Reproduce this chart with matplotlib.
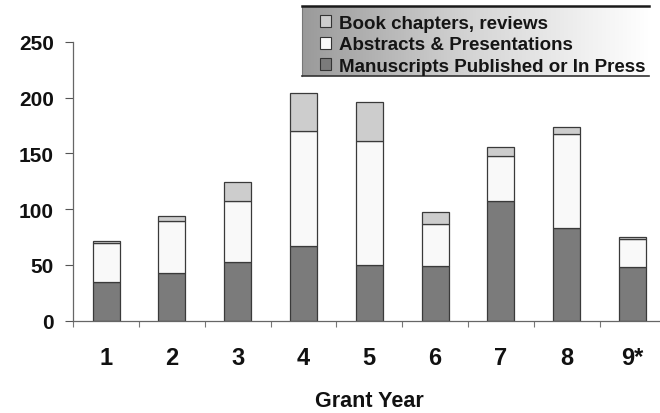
import numpy as np
import matplotlib
matplotlib.use('Agg')
import matplotlib.pyplot as plt
from matplotlib.colors import LinearSegmentedColormap
from matplotlib.patches import Patch

plt.rcParams['font.family'] = ['Liberation Sans', 'DejaVu Sans']
plt.rcParams['font.weight'] = 'bold'

# data
years       = ['1', '2', '3', '4', '5', '6', '7', '8', '9*']
manuscripts = [35, 43, 53, 67, 50, 49, 107, 83, 48]
abstracts   = [35, 46, 54, 103, 111, 38, 41, 84, 25]
chapters    = [1, 5, 17, 34, 35, 10, 8, 7, 2]
labels      = ['Manuscripts Published or In Press',
               'Abstracts & Presentations',
               'Book chapters, reviews']
yticks      = [0, 50, 100, 150, 200, 250]

c_man  = '#7b7b7b'
c_abs  = '#f9f9f9'
c_book = '#cdcdcd'
edge   = '#3a3a3a'
txt    = '#111111'

fig = plt.figure(figsize=(6.6, 4.14), dpi=100)
ax = fig.add_axes([73.3/660, 92.3/414, 592/660, 279/414])

x = np.arange(len(years))
man = np.array(manuscripts)
ab = np.array(abstracts)
bk = np.array(chapters)
w = 0.41
ax.bar(x, man, w, color=c_man, edgecolor=edge, lw=0.9)
ax.bar(x, ab, w, bottom=man, color=c_abs, edgecolor=edge, lw=0.9)
ax.bar(x, bk, w, bottom=man+ab, color=c_book, edgecolor=edge, lw=0.9)

ax.set_xlim(-0.5, len(years)-0.5)
ax.set_ylim(0, 250)
ax.set_yticks(yticks)
ax.set_yticklabels([str(v) for v in yticks], fontsize=15, fontweight='bold', color=txt)
ax.tick_params(axis='y', length=6, width=0.8, color='#555555', pad=8)

# x ticks at category boundaries, labels at centres
ax.set_xticks(np.arange(len(years)+1) - 0.5)
ax.set_xticklabels([])
ax.set_xticks(x, minor=True)
ax.set_xticklabels(years, minor=True, fontsize=17, fontweight='bold', color=txt)
ax.tick_params(axis='x', which='major', length=4, width=0.8, color='#777777')
ax.tick_params(axis='x', which='minor', length=0, pad=18)

for s in ['top', 'right']:
    ax.spines[s].set_visible(False)
for s in ['left', 'bottom']:
    ax.spines[s].set_color('#666666')
    ax.spines[s].set_linewidth(0.9)

ax.set_xlabel('Grant Year', fontsize=15.5, fontweight='bold', color=txt, labelpad=15)

# legend box with grey gradient
lax = fig.add_axes([302/660, (414-76.5)/414, (649-302)/660, 70/414])
cmap = LinearSegmentedColormap.from_list('g', ['#9a9a9a', '#d6d6d6', '#ffffff'])
lax.imshow(np.linspace(0, 1, 256)[None, :], aspect='auto', cmap=cmap, extent=[0, 1, 0, 1])
lax.set_xticks([])
lax.set_yticks([])
lax.spines['top'].set_color('#1a1a1a')
lax.spines['top'].set_linewidth(1.8)
lax.spines['bottom'].set_color('#333333')
lax.spines['bottom'].set_linewidth(1.2)
lax.spines['left'].set_color('#777777')
lax.spines['right'].set_visible(False)

handles = [Patch(facecolor=c, edgecolor='#333333', lw=0.8) for c in [c_book, c_abs, c_man]]
leg = lax.legend(handles, labels[::-1], loc='center left', bbox_to_anchor=(0.02, 0.44),
                 frameon=False, handlelength=0.6, handleheight=0.6,
                 handletextpad=0.4, labelspacing=0.25, borderaxespad=0.2,
                 prop={'weight': 'bold', 'size': 13.5})
for t in leg.get_texts():
    t.set_color('#151515')

fig.savefig('out.png', dpi=100)
